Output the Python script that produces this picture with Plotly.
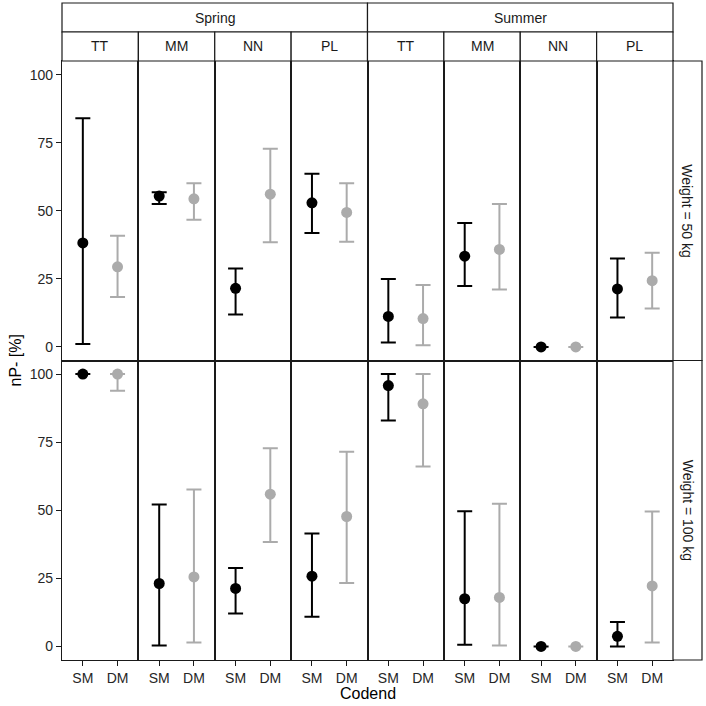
import plotly.graph_objects as go
from plotly.subplots import make_subplots

seasons = ["Spring", "Spring", "Spring", "Spring", "Summer", "Summer", "Summer", "Summer"]
species = ["TT", "MM", "NN", "PL", "TT", "MM", "NN", "PL"]
weights = ["Weight = 50 kg", "Weight = 100 kg"]
codends = ["SM", "DM"]

# nP- [%] estimates with lower / upper limits, one value per panel column
sm_50 = [38.2, 55.4, 21.5, 52.9, 11.2, 33.3, 0, 21.3]
sm_50_lo = [1.1, 52.5, 11.9, 41.8, 1.6, 22.4, 0, 10.8]
sm_50_hi = [84.0, 56.8, 28.8, 63.6, 24.9, 45.5, 0, 32.5]
dm_50 = [29.4, 54.4, 56.1, 49.4, 10.4, 35.8, 0, 24.3]
dm_50_lo = [18.3, 46.7, 38.4, 38.6, 0.6, 21.1, 0, 14.1]
dm_50_hi = [40.8, 60.1, 72.8, 60.1, 22.7, 52.5, 0, 34.6]

sm_100 = [100, 23.1, 21.3, 25.8, 95.8, 17.5, 0, 3.7]
sm_100_lo = [100, 0.3, 12.1, 10.9, 83.0, 0.6, 0, 0]
sm_100_hi = [100, 52.1, 28.8, 41.5, 100, 49.6, 0, 9.0]
dm_100 = [100, 25.5, 55.9, 47.7, 89.1, 18.0, 0, 22.2]
dm_100_lo = [93.9, 1.4, 38.3, 23.3, 66.1, 0.3, 0, 1.4]
dm_100_hi = [100, 57.6, 72.8, 71.5, 100, 52.4, 0, 49.5]

y_ticks = [0, 25, 50, 75, 100]

W, H = 706, 706
ML, MR, MT, MB = 62, 33, 61, 46
PW, PH = W - ML - MR, H - MT - MB


def px_x(px):
    return (px - ML) / PW


def px_y(py):
    return (H - MB - py) / PH


colors = {"SM": "black", "DM": "#ababab"}
font = "Liberation Sans, Arial, sans-serif"
line_col = "#1a1a1a"

fig = make_subplots(rows=2, cols=8, horizontal_spacing=0, vertical_spacing=0)

rows = [
    {"SM": (sm_50, sm_50_lo, sm_50_hi), "DM": (dm_50, dm_50_lo, dm_50_hi)},
    {"SM": (sm_100, sm_100_lo, sm_100_hi), "DM": (dm_100, dm_100_lo, dm_100_hi)},
]

for r, row in enumerate(rows):
    for c in range(8):
        for cod in codends:
            val, lo, hi = row[cod]
            fig.add_trace(go.Scatter(
                x=[cod],
                y=[val[c]],
                mode="markers",
                marker=dict(color=colors[cod], size=11),
                error_y=dict(
                    type="data",
                    symmetric=False,
                    array=[hi[c] - val[c]],
                    arrayminus=[val[c] - lo[c]],
                    color=colors[cod],
                    thickness=2,
                    width=7.5,
                ),
                showlegend=False,
            ), row=r + 1, col=c + 1)

        fig.update_xaxes(
            type="category",
            categoryorder="array",
            categoryarray=codends,
            range=[-0.6, 1.6],
            showgrid=False,
            zeroline=False,
            showline=True,
            mirror=True,
            linecolor=line_col,
            linewidth=1.2,
            ticks="outside" if r == 1 else "",
            ticklen=5,
            tickcolor=line_col,
            showticklabels=(r == 1),
            tickfont=dict(size=14, color="#262626", family=font),
            row=r + 1, col=c + 1,
        )
        fig.update_yaxes(
            range=[-5, 105],
            tickvals=y_ticks,
            showgrid=False,
            zeroline=False,
            showline=True,
            mirror=True,
            linecolor=line_col,
            linewidth=1.2,
            ticks="outside" if c == 0 else "",
            ticklen=5,
            tickcolor=line_col,
            showticklabels=(c == 0),
            tickfont=dict(size=14, color="#262626", family=font),
            row=r + 1, col=c + 1,
        )

shapes = []
annotations = []
strip_line = dict(color=line_col, width=1.2)
strip_font = dict(size=14, color="#1a1a1a", family=font)
y_mid, y_top = px_y(32), px_y(3)


def label(text, x, y, **kw):
    annotations.append(dict(text=text, xref="paper", yref="paper", x=x, y=y,
                            xanchor="center", yanchor="middle", showarrow=False, **kw))


# season strips
for i, s in enumerate(["Spring", "Summer"]):
    x0, x1 = i * 0.5, (i + 1) * 0.5
    shapes.append(dict(type="rect", xref="paper", yref="paper", x0=x0, x1=x1,
                       y0=y_mid, y1=y_top, fillcolor="white", line=strip_line))
    label(s, (x0 + x1) / 2, (y_mid + y_top) / 2, font=strip_font)

# species strips
for i, sp in enumerate(species):
    x0, x1 = i / 8, (i + 1) / 8
    shapes.append(dict(type="rect", xref="paper", yref="paper", x0=x0, x1=x1,
                       y0=1, y1=y_mid, fillcolor="white", line=strip_line))
    label(sp, (x0 + x1) / 2, (1 + y_mid) / 2, font=strip_font)

# weight strips
x_r = px_x(702)
for i, w in enumerate(weights):
    y1, y0 = 1 - i * 0.5, 0.5 - i * 0.5
    shapes.append(dict(type="rect", xref="paper", yref="paper", x0=1, x1=x_r,
                       y0=y0, y1=y1, fillcolor="white", line=strip_line))
    label(w, (1 + x_r) / 2, (y0 + y1) / 2, textangle=90, font=strip_font)

label("nP- [%]", px_x(15), 0.5, textangle=-90,
      font=dict(size=16, color="black", family=font))
label("Codend", 0.5, px_y(693), font=dict(size=16, color="black", family=font))

fig.update_layout(
    width=W,
    height=H,
    margin=dict(l=ML, r=MR, t=MT, b=MB),
    plot_bgcolor="white",
    paper_bgcolor="white",
    shapes=shapes,
    annotations=annotations,
    showlegend=False,
)

fig.write_html("out.html", config={"displayModeBar": False},
               post_script="document.body.style.margin='0';")
